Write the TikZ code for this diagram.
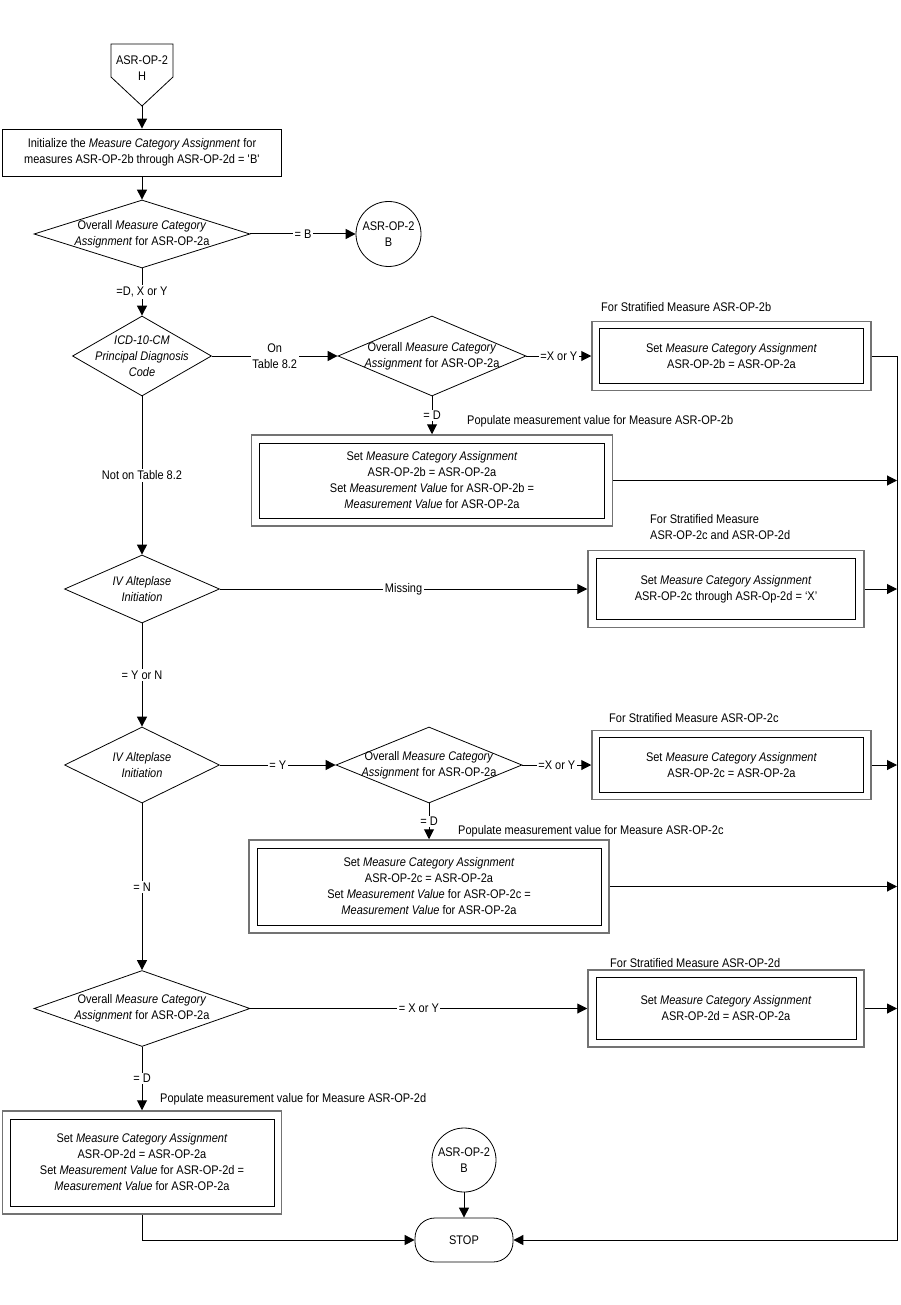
\documentclass[tikz,border=0pt]{standalone}
\usepackage{fontspec}
\setmainfont{Liberation Sans}[FakeStretch=0.88]
\usetikzlibrary{shapes.geometric,arrows.meta}
\begin{document}
\begin{tikzpicture}[x=1pt,y=-1pt,
  font=\fontsize{12.5}{16}\selectfont,
  lnk/.style={line width=1pt,-{Triangle[length=10pt,width=10pt]}},
  ln/.style={line width=1pt},
  dia/.style={draw,line width=0.8pt,shape=diamond,inner sep=0pt},
  box/.style={draw,line width=0.8pt,rectangle,inner sep=0pt,align=center},
  outerbox/.style={draw=black!55,line width=1.5pt,rectangle,inner sep=0pt},
  lbl/.style={fill=white,inner sep=1.5pt,align=center},
  note/.style={anchor=west,inner sep=0pt,align=left},
  conn/.style={draw,line width=0.8pt,circle,inner sep=0pt,align=center}]
\useasboundingbox (0,0) rectangle (900,1305);

% off-page connector
\draw[line width=0.8pt] (111,44) -- (173,44) -- (173,77) -- (142,106) -- (111,77) -- cycle;
\node[align=center,inner sep=0pt] (Hn) at (142,68) {ASR-OP-2\\H};
\coordinate (Htip) at (142,106);

% left column
\node[box,minimum width=279,minimum height=47] (box1) at (142,152.5)
  {Initialize the \textit{Measure Category Assignment} for\\measures ASR-OP-2b through ASR-OP-2d = \textquotesingle B\textquotesingle};
\node[dia,minimum width=216,minimum height=68,
  label={[align=center]center:{Overall \textit{Measure Category}\\\textit{Assignment} for ASR-OP-2a}}] (d1) at (142,234) {};
\node[conn,minimum size=65] (cB) at (388.5,234) {ASR-OP-2\\B};
\node[dia,minimum width=139,minimum height=80,
  label={[align=center]center:{\textit{ICD-10-CM}\\\textit{Principal Diagnosis}\\\textit{Code}}}] (d2) at (142,356) {};
\node[dia,minimum width=188,minimum height=80,
  label={[align=center]center:{Overall \textit{Measure Category}\\\textit{Assignment} for ASR-OP-2a}}] (d3) at (432,356) {};
\node[dia,minimum width=155,minimum height=68,
  label={[align=center]center:{\textit{IV Alteplase}\\\textit{Initiation}}}] (d4) at (142,589) {};
\node[dia,minimum width=155,minimum height=76,
  label={[align=center]center:{\textit{IV Alteplase}\\\textit{Initiation}}}] (d5) at (142,765) {};
\node[dia,minimum width=186,minimum height=76,
  label={[align=center]center:{Overall \textit{Measure Category}\\\textit{Assignment} for ASR-OP-2a}}] (d6) at (429,765) {};
\node[dia,minimum width=216,minimum height=76,
  label={[align=center]center:{Overall \textit{Measure Category}\\\textit{Assignment} for ASR-OP-2a}}] (d7) at (142,1008.5) {};

% right column boxes
\node[outerbox,minimum width=279,minimum height=69] (b2bo) at (731.5,356) {};
\node[box,minimum width=264,minimum height=55] (b2b) at (b2bo.center)
  {Set \textit{Measure Category Assignment}\\ASR-OP-2b = ASR-OP-2a};
\node[note] (lb2b) at (601,307) {For Stratified Measure ASR-OP-2b};

\node[outerbox,minimum width=361,minimum height=91] (p2bo) at (432,480.5) {};
\node[box,minimum width=345,minimum height=75] (p2b) at (p2bo.center)
  {Set \textit{Measure Category Assignment}\\ASR-OP-2b = ASR-OP-2a\\Set \textit{Measurement Value} for ASR-OP-2b =\\\textit{Measurement Value} for ASR-OP-2a};
\node[note] (lp2b) at (467,421) {Populate measurement value for Measure ASR-OP-2b};

\node[outerbox,minimum width=276,minimum height=77] (bXo) at (726,589) {};
\node[box,minimum width=259,minimum height=61] (bX) at (bXo.center)
  {Set \textit{Measure Category Assignment}\\ASR-OP-2c through ASR-Op-2d = `X'};
\node[note] (lbX) at (650,527.5) {For Stratified Measure\\ASR-OP-2c and ASR-OP-2d};

\node[outerbox,minimum width=279,minimum height=69] (b2co) at (731.5,765) {};
\node[box,minimum width=264,minimum height=55] (b2c) at (b2co.center)
  {Set \textit{Measure Category Assignment}\\ASR-OP-2c = ASR-OP-2a};
\node[note] (lb2c) at (609,718) {For Stratified Measure ASR-OP-2c};

\node[outerbox,minimum width=360,minimum height=93] (p2co) at (429,886.5) {};
\node[box,minimum width=344,minimum height=77] (p2c) at (p2co.center)
  {Set \textit{Measure Category Assignment}\\ASR-OP-2c = ASR-OP-2a\\Set \textit{Measurement Value} for ASR-OP-2c =\\\textit{Measurement Value} for ASR-OP-2a};
\node[note] (lp2c) at (458,831) {Populate measurement value for Measure ASR-OP-2c};

\node[outerbox,minimum width=276,minimum height=77] (b2do) at (726,1008.5) {};
\node[box,minimum width=260,minimum height=62] (b2d) at (b2do.center)
  {Set \textit{Measure Category Assignment}\\ASR-OP-2d = ASR-OP-2a};
\node[note] (lb2d) at (610,963) {For Stratified Measure ASR-OP-2d};

\node[outerbox,minimum width=279,minimum height=103] (p2do) at (142,1162.5) {};
\node[box,minimum width=264,minimum height=87] (p2d) at (p2do.center)
  {Set \textit{Measure Category Assignment}\\ASR-OP-2d = ASR-OP-2a\\Set \textit{Measurement Value} for ASR-OP-2d =\\\textit{Measurement Value} for ASR-OP-2a};
\node[note] (lp2d) at (160,1099) {Populate measurement value for Measure ASR-OP-2d};

% end
\node[conn,minimum size=64] (cB2) at (464,1160) {ASR-OP-2\\B};
\node[draw,line width=0.8pt,rounded corners=20pt,minimum width=98,minimum height=44] (stop) at (464,1240) {STOP};

\coordinate (rt) at (897,356);
\coordinate (rb) at (897,1240);

% connectors
\draw[lnk] (Htip) -- (box1.north);
\draw[lnk] (box1.south) -- (d1.north);
\draw[lnk] (d1.east) -- node[lbl]{= B} (cB.west);
\draw[lnk] (d1.south) -- node[lbl]{=D, X or Y} (d2.north);
\draw[lnk] (d2.east) -- node[lbl]{On\\Table 8.2} (d3.west);
\draw[lnk] (d3.east) -- node[lbl]{=X or Y} (b2bo.west);
\draw[lnk] (d3.south) -- node[lbl]{= D} (p2bo.north);
\draw[lnk] (p2bo.east) -- (p2bo.east -| rt);
\draw[lnk] (b2bo.east) -- (rt) -- (rb) -- (stop.east);
\draw[lnk] (d2.south) -- node[lbl]{Not on Table 8.2} (d4.north);
\draw[lnk] (d4.east) -- node[lbl]{Missing} (bXo.west);
\draw[lnk] (bXo.east) -- (bXo.east -| rt);
\draw[lnk] (d4.south) -- node[lbl]{= Y or N} (d5.north);
\draw[lnk] (d5.east) -- node[lbl]{= Y} (d6.west);
\draw[lnk] (d6.east) -- node[lbl]{=X or Y} (b2co.west);
\draw[lnk] (b2co.east) -- (b2co.east -| rt);
\draw[lnk] (d6.south) -- node[lbl]{= D} (p2co.north);
\draw[lnk] (p2co.east) -- (p2co.east -| rt);
\draw[lnk] (d5.south) -- node[lbl]{= N} (d7.north);
\draw[lnk] (d7.east) -- node[lbl]{= X or Y} (b2do.west);
\draw[lnk] (b2do.east) -- (b2do.east -| rt);
\draw[lnk] (d7.south) -- node[lbl]{= D} (p2do.north);
\draw[lnk] (p2do.south) |- (stop.west);
\draw[lnk] (cB2.south) -- (stop.north);
\end{tikzpicture}
\end{document}
